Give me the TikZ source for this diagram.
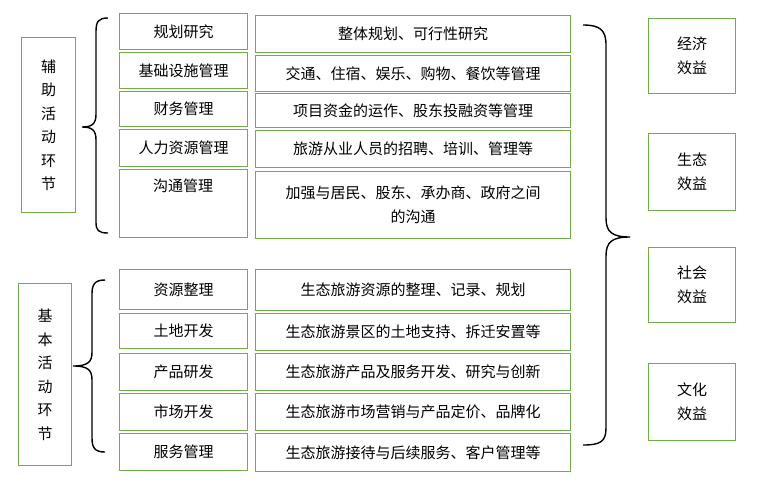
\documentclass[tikz,border=0pt]{standalone}
\usepackage{fontspec}
\newfontfamily\cjk{Noto Sans CJK SC}
\usetikzlibrary{positioning,calc}
\definecolor{boxgreen}{RGB}{112,173,71}
\tikzset{
  gbox/.style={draw=boxgreen, line width=1.2pt, inner sep=0pt},
  txt/.style={font=\cjk\fontsize{15}{24}\selectfont, align=center},
  brace/.style={line width=1.4pt}
}
\newcommand{\gbox}[6]{% name, x1, y1, x2, y2, text
  \node[gbox, minimum width=#4-#2, minimum height=#5-#3, anchor=north west] (#1) at (#2,#3) {};
  \node[txt] at ($(#1.north)!0.5!(#1.south)$) {#6};}
\begin{document}
\begin{tikzpicture}[x=1pt,y=-1pt]
  \useasboundingbox (0,0) rectangle (757,483);
  % left labels
  \node[gbox, minimum width=54, minimum height=175, anchor=north west] (aux) at (21,37) {};
  \node[txt, font=\cjk\fontsize{15}{23.5}\selectfont] at (aux) {辅\\助\\活\\动\\环\\节};
  \node[gbox, minimum width=53, minimum height=182, anchor=north west] (base) at (18,283) {};
  \node[txt, font=\cjk\fontsize{15}{23.5}\selectfont] at (base) {基\\本\\活\\动\\环\\节};
  % upper group
  \gbox{u1}{119}{13}{247}{49}{规划研究}
  \gbox{u2}{119}{52}{247}{88}{基础设施管理}
  \gbox{u3}{119}{91}{247}{126}{财务管理}
  \gbox{u4}{119}{129}{247}{166}{人力资源管理}
  \node[gbox, minimum width=128, minimum height=68, anchor=north west] (u5) at (119,169) {};
  \node[txt] at (183,186) {沟通管理};
  \gbox{r1}{255}{15}{570}{52}{整体规划、可行性研究}
  \gbox{r2}{255}{55}{570}{91}{交通、住宿、娱乐、购物、餐饮等管理}
  \gbox{r3}{255}{93}{570}{127}{项目资金的运作、股东投融资等管理}
  \gbox{r4}{255}{130}{570}{167}{旅游从业人员的招聘、培训、管理等}
  \gbox{r5}{255}{171}{570}{238}{加强与居民、股东、承办商、政府之间\\的沟通}
  % lower group
  \gbox{l1}{119}{269}{247}{309}{资源整理}
  \gbox{l2}{119}{313}{247}{348}{土地开发}
  \gbox{l3}{119}{353}{247}{390}{产品研发}
  \gbox{l4}{119}{393}{247}{430}{市场开发}
  \gbox{l5}{119}{433}{247}{470}{服务管理}
  \gbox{s1}{255}{269}{570}{310}{生态旅游资源的整理、记录、规划}
  \gbox{s2}{255}{313}{570}{350}{生态旅游景区的土地支持、拆迁安置等}
  \gbox{s3}{255}{353}{570}{390}{生态旅游产品及服务开发、研究与创新}
  \gbox{s4}{255}{393}{570}{430}{生态旅游市场营销与产品定价、品牌化}
  \gbox{s5}{255}{433}{570}{471}{生态旅游接待与后续服务、客户管理等}
  % benefits
  \gbox{e1}{648}{18}{735}{93}{经济\\效益}
  \gbox{e2}{648}{133}{735}{210}{生态\\效益}
  \gbox{e3}{648}{247}{735}{322}{社会\\效益}
  \gbox{e4}{648}{363}{735}{440}{文化\\效益}
  % braces
  \draw[brace] (108,18) .. controls (98,18) and (96,22) .. (96,32) -- (96,114)
    .. controls (96,124) and (92,127) .. (82,127)
    .. controls (92,127) and (96,130) .. (96,140) -- (96,222)
    .. controls (96,230) and (98,233) .. (108,233);
  \draw[brace] (105,280) .. controls (95,280) and (92,284) .. (92,294) -- (92,352)
    .. controls (92,362) and (88,366) .. (73,366)
    .. controls (88,366) and (92,370) .. (92,380) -- (92,438)
    .. controls (92,448) and (95,452) .. (105,452);
  \draw[brace] (583,25) .. controls (600,25) and (606,30) .. (606,45) -- (606,218)
    .. controls (606,232) and (612,237) .. (630,237)
    .. controls (612,237) and (606,242) .. (606,256) -- (606,428)
    .. controls (606,442) and (600,445) .. (583,445);
\end{tikzpicture}
\end{document}
